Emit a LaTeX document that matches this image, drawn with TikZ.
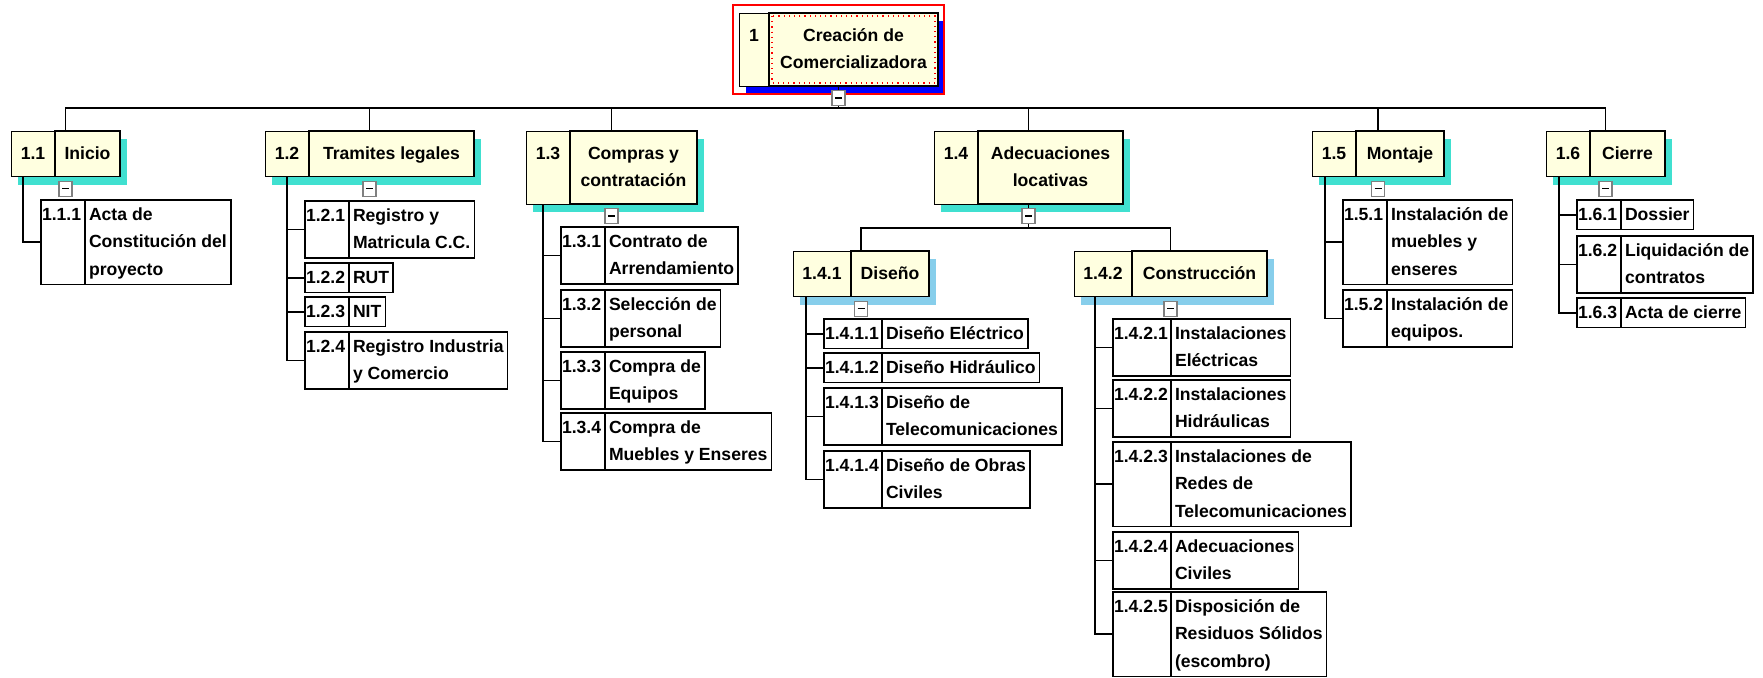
\documentclass[tikz,border=0pt]{standalone}
\usepackage{fontspec}
\setmainfont{Liberation Sans}
\usetikzlibrary{positioning,fit,backgrounds,shadows}

\definecolor{boxyellow}{HTML}{FFFFE0}
\definecolor{turq}{HTML}{40E0D0}
\definecolor{skyshadow}{HTML}{87CEEB}

\newcommand{\wbsbreak}{\strut\\\strut}

\tikzset{
  wbs/.style={font=\fontsize{8.8}{13.75}\selectfont\bfseries, outer sep=0pt,
    execute at begin node=\strut, execute at end node=\strut},
  topnum/.style={wbs, anchor=north west, minimum width=#1, inner xsep=0pt, inner ysep=4.5pt},
  toptext/.style={wbs, draw, anchor=north west, align=center, minimum width=#1,
    inner xsep=2pt, inner ysep=4.5pt},
  topbox/.style={draw, fill=boxyellow, inner sep=0pt, outer sep=0pt,
    drop shadow={shadow xshift=3.5pt, shadow yshift=-4pt, fill=#1, opacity=1, draw=none}},
  leafnum/.style={wbs, anchor=north west, text width=#1, align=left, inner xsep=0.5pt, inner ysep=0.5pt},
  leaftext/.style={wbs, draw, anchor=north west, align=left, inner xsep=2pt, inner ysep=0.5pt},
  leafbox/.style={draw, inner sep=0pt, outer sep=0pt},
  minusbox/.style={draw=gray, fill=white, line width=0.6pt, minimum width=6.5pt,
    minimum height=7.5pt, inner sep=0pt, below=2pt}
}

\begin{document}
\begin{tikzpicture}[x=0.5pt,y=-0.5pt,line width=0.8pt]
\useasboundingbox (0,0) rectangle (1763,677);

\foreach \id/\x/\y/\w/\tw/\sh/\num/\txt in {
  1/739/13/15/84.5/blue/1/{Creación de\wbsbreak Comercializadora},
  11/11/131/22/32.5/turq/1.1/{Inicio},
  12/265/131/22/82.5/turq/1.2/{Tramites legales},
  13/526/131/22/63.5/turq/1.3/{Compras y\wbsbreak contratación},
  14/934/131/22/72.5/turq/1.4/{Adecuaciones\wbsbreak locativas},
  15/1312/131/22/44/turq/1.5/{Montaje},
  16/1546/131/22/37.5/turq/1.6/{Cierre},
  141/793/251/29/39/skyshadow/1.4.1/{Diseño},
  142/1074/251/29/67.5/skyshadow/1.4.2/{Construcción}}
{
  \node[topnum=\w pt] (num\id) at (\x,\y) {\num};
  \node[toptext=\tw pt] (txt\id) at (num\id.north east) {\txt};
  \begin{scope}[on background layer]
    \node[topbox=\sh, fit=(num\id)(txt\id)] (b\id) {};
  \end{scope}
}

\foreach \id/\x/\y/\w/\num/\txt in {
  111/41/200/21/1.1.1/{Acta de\wbsbreak Constitución del\wbsbreak proyecto},
  121/305/201/21/1.2.1/{Registro y\wbsbreak Matricula C.C.},
  122/305/263/21/1.2.2/{RUT},
  123/305/297/21/1.2.3/{NIT},
  124/305/332/21/1.2.4/{Registro Industria\wbsbreak y Comercio},
  131/561/227/21/1.3.1/{Contrato de\wbsbreak Arrendamiento},
  132/561/290/21/1.3.2/{Selección de\wbsbreak personal},
  133/561/352/21/1.3.3/{Compra de\wbsbreak Equipos},
  134/561/413/21/1.3.4/{Compra de\wbsbreak Muebles y Enseres},
  1411/824/319/28/1.4.1.1/{Diseño Eléctrico},
  1412/824/353/28/1.4.1.2/{Diseño Hidráulico},
  1413/824/388/28/1.4.1.3/{Diseño de\wbsbreak Telecomunicaciones},
  1414/824/451/28/1.4.1.4/{Diseño de Obras\wbsbreak Civiles},
  1421/1113/319/28/1.4.2.1/{Instalaciones\wbsbreak Eléctricas},
  1422/1113/380/28/1.4.2.2/{Instalaciones\wbsbreak Hidráulicas},
  1423/1113/442/28/1.4.2.3/{Instalaciones de\wbsbreak Redes de\wbsbreak Telecomunicaciones},
  1424/1113/532/28/1.4.2.4/{Adecuaciones\wbsbreak Civiles},
  1425/1113/592/28/1.4.2.5/{Disposición de\wbsbreak Residuos Sólidos\wbsbreak (escombro)},
  151/1343/200/21/1.5.1/{Instalación de\wbsbreak muebles y\wbsbreak enseres},
  152/1343/290/21/1.5.2/{Instalación de\wbsbreak equipos.},
  161/1577/200/21/1.6.1/{Dossier},
  162/1577/236/21/1.6.2/{Liquidación de\wbsbreak contratos},
  163/1577/298/21/1.6.3/{Acta de cierre}}
{
  \node[leafnum=\w pt] (num\id) at (\x,\y) {\num};
  \node[leaftext] (txt\id) at (num\id.north east) {\txt};
  \node[leafbox, fit=(num\id)(txt\id)] (b\id) {};
}

\draw[red, dotted, line width=0.6pt] ([shift={(1.5pt,-1.5pt)}]txt1.north west)
  rectangle ([shift={(-1.5pt,1.5pt)}]txt1.south east);
\draw[red, line width=0.6pt] ([shift={(-3pt,4pt)}]b1.north west)
  rectangle ([shift={(3pt,-4pt)}]b1.south east);

\coordinate (bus) at (0,108);
\coordinate (bus14) at (0,228);
\foreach \k in {11,12,13,14,15,16}
  \draw (b1.south) |- (bus -| b\k.north) -- (b\k.north);
\foreach \k in {141,142}
  \draw (b14.south) |- (bus14 -| b\k.north) -- (b\k.north);

\foreach \p/\c in {11/111, 12/121, 12/122, 12/123, 12/124,
  13/131, 13/132, 13/133, 13/134,
  141/1411, 141/1412, 141/1413, 141/1414,
  142/1421, 142/1422, 142/1423, 142/1424, 142/1425,
  15/151, 15/152, 16/161, 16/162, 16/163}
  \draw ([xshift=-9pt]b\c.west |- b\p.south) |- (b\c.west);

\foreach \k in {1,11,12,13,14,15,16,141,142}
  \node[minusbox] (c\k) at (b\k.south) {\rule{3.5pt}{0.7pt}};
\end{tikzpicture}
\end{document}
